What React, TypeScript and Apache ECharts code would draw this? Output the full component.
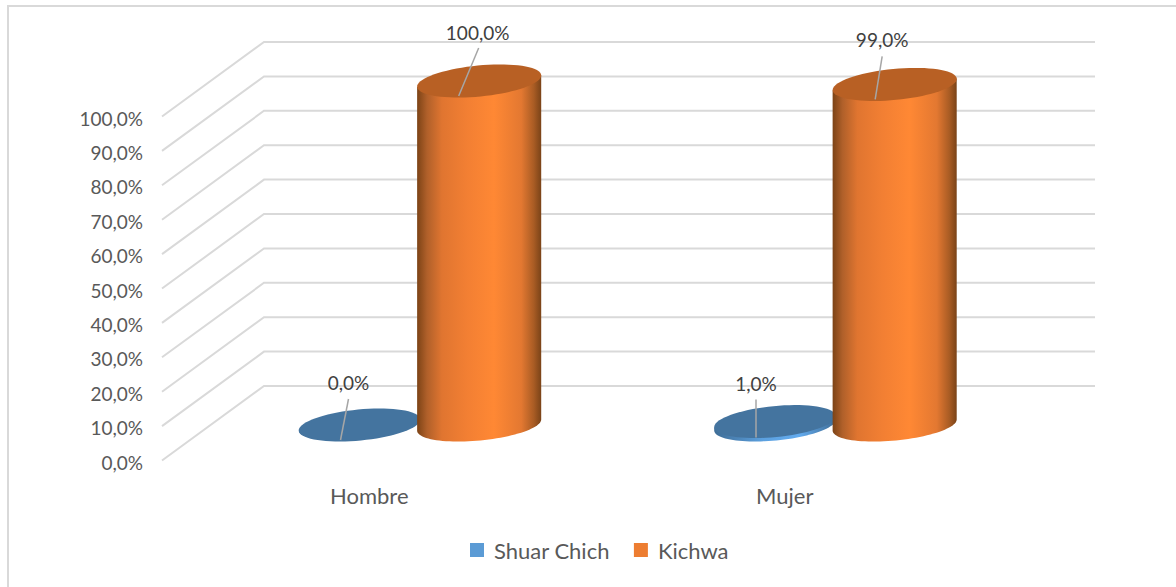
import React, { useEffect, useRef } from "react";
import * as echarts from "echarts";

const categories = ["Hombre", "Mujer"];
const shuarChich = [0, 1];
const kichwa = [100, 99];
const axisTicks = [0, 10, 20, 30, 40, 50, 60, 70, 80, 90, 100];

const FONT = "Lato";
const DEPTH_X = 104;
const DEPTH_Y = 76;
const MID_X = 52;
const MID_Y = 37;
const BACK_WIDTH = 831;
const TILT = (5.5 * Math.PI) / 180;

const fmt = (v: number) => v.toFixed(1).replace(".", ",") + "%";

const ellipsePoint = (cx: number, cy: number, rx: number, ry: number, t: number) => {
  const x = rx * Math.cos(t);
  const y = ry * Math.sin(t);
  return [cx + x * Math.cos(TILT) + y * Math.sin(TILT), cy - x * Math.sin(TILT) + y * Math.cos(TILT)];
};

const ellipsePts = (cx: number, cy: number, rx: number, ry: number, from = 0, to = Math.PI * 2, n = 72) => {
  const pts: number[][] = [];
  for (let i = 0; i <= n; i++) {
    pts.push(ellipsePoint(cx, cy, rx, ry, from + ((to - from) * i) / n));
  }
  return pts;
};

const grad = (stops: [number, string][]) =>
  new echarts.graphic.LinearGradient(0, 0, 1, 0, stops.map(([offset, color]) => ({ offset, color })));

const orangeStops: [number, string][] = [
  [0, "#7c4316"],
  [0.08, "#b0602a"],
  [0.2, "#e07530"],
  [0.4, "#f27f33"],
  [0.62, "#ff8834"],
  [0.84, "#e37831"],
  [0.94, "#a95c24"],
  [1, "#7a4318"],
];
const blueStops: [number, string][] = [
  [0, "#3f6d96"],
  [0.4, "#5ba0df"],
  [0.7, "#63abee"],
  [1, "#3f6d96"],
];

// label centre and leader-line ends, relative to the top centre of each cylinder
const leaderOffsets: Record<string, number[][]> = {
  "0-0": [[-11, -43], [-11, -26], [-19, 15]],
  "0-1": [[-19, -38], [-19, -22], [-19, 16]],
  "1-0": [[-1.5, -49], [-0.5, -33], [-20.5, 15]],
  "1-1": [[-12.5, -45], [-12.5, -28], [-19.5, 15]],
};

const cylinderSeries = (name: string, data: number[], seriesIdx: number, color: string, top: string, stops: [number, string][]) => ({
  type: "custom",
  name,
  itemStyle: { color },
  z: 3 + seriesIdx,
  data: data.map((v, i) => [i, v]),
  renderItem: (params: any, api: any) => {
    const cat = api.value(0);
    const val = api.value(1);
    const base = api.coord([cat, 0]);
    const head = api.coord([cat, val]);
    const band = api.size([1, 0])[0];
    const cx = base[0] + MID_X + band * (seriesIdx === 0 ? -0.145 : 0.143);
    const rx = band * (seriesIdx === 0 ? 0.147 : 0.15);
    const ry = 15.5;
    const yB = base[1] - MID_Y;
    const yT = head[1] - MID_Y;
    const bottomArc = ellipsePts(cx, yB, rx, ry, Math.PI, 0, 48);
    const left = ellipsePoint(cx, yT, rx, ry, Math.PI);
    const right = ellipsePoint(cx, yT, rx, ry, 0);
    const off = leaderOffsets[`${seriesIdx}-${cat}`];
    const children: any[] = [];
    if (val > 0) {
      children.push({
        type: "polygon",
        shape: { points: [left, ...bottomArc, right] },
        style: { fill: grad(stops) },
      });
    }
    children.push({
      type: "polygon",
      shape: { points: ellipsePts(cx, yT, rx, ry) },
      style: { fill: top },
    });
    children.push({
      type: "line",
      shape: { x1: cx + off[1][0], y1: yT + off[1][1], x2: cx + off[2][0], y2: yT + off[2][1] },
      style: { stroke: "#a6a6a6", lineWidth: 1.5 },
    });
    children.push({
      type: "text",
      style: {
        text: fmt(val),
        x: cx + off[0][0],
        y: yT + off[0][1],
        align: "center",
        verticalAlign: "middle",
        fill: "#404040",
        font: `19px ${FONT}`,
      },
    });
    return { type: "group", children };
  },
});

export default function App() {
  const ref = useRef<HTMLDivElement>(null);
  useEffect(() => {
    const chart = echarts.init(ref.current!, undefined, { renderer: "svg" });
    chart.setOption({
      animation: false,
      backgroundColor: "#fff",
      grid: { left: 160, right: 185, top: 118, bottom: 125 },
      xAxis: {
        type: "category",
        data: categories,
        axisLine: { show: false },
        axisTick: { show: false },
        axisLabel: { color: "#595959", fontFamily: FONT, fontSize: 22, margin: 22, padding: [0, 0, 0, 3] },
      },
      yAxis: {
        type: "value",
        min: 0,
        max: 100,
        interval: 10,
        axisLine: { show: false },
        axisTick: { show: false },
        splitLine: { show: false },
        axisLabel: { color: "#595959", fontFamily: FONT, fontSize: 19, margin: 17, padding: [2, 0, 0, 0], formatter: fmt },
      },
      legend: {
        data: ["Shuar Chich", "Kichwa"],
        left: 465,
        top: 534,
        icon: "rect",
        itemWidth: 14,
        itemHeight: 14,
        itemGap: 24,
        textStyle: { color: "#595959", fontFamily: FONT, fontSize: 22, padding: [0, 0, 0, 5] },
      },
      graphic: [
        {
          type: "polyline",
          silent: true,
          shape: { points: [[8, 587], [8, 6], [1176, 6]] },
          style: { stroke: "#d9d9d9", lineWidth: 2, fill: "none" },
        },
      ],
      series: [
        {
          type: "custom",
          name: "grid",
          z: 1,
          silent: true,
          data: axisTicks.map((v) => [0, v]),
          renderItem: (params: any, api: any) => {
            const y = api.coord([0, api.value(1)])[1];
            const x0 = params.coordSys.x;
            return {
              type: "polyline",
              shape: {
                points: [
                  [x0 + 2, y - 1.5],
                  [x0 + DEPTH_X, y - DEPTH_Y],
                  [x0 + DEPTH_X + BACK_WIDTH, y - DEPTH_Y],
                ],
              },
              style: { stroke: "#d9d9d9", lineWidth: 2, fill: "none" },
            };
          },
        },
        cylinderSeries("Shuar Chich", shuarChich, 0, "#5b9bd5", "#44749f", blueStops),
        cylinderSeries("Kichwa", kichwa, 1, "#ed7d31", "#b86024", orangeStops),
      ],
    });
    return () => chart.dispose();
  }, []);
  return <div ref={ref} style={{ position: "fixed", left: 0, top: 0, width: 1176, height: 587 }} />;
}
